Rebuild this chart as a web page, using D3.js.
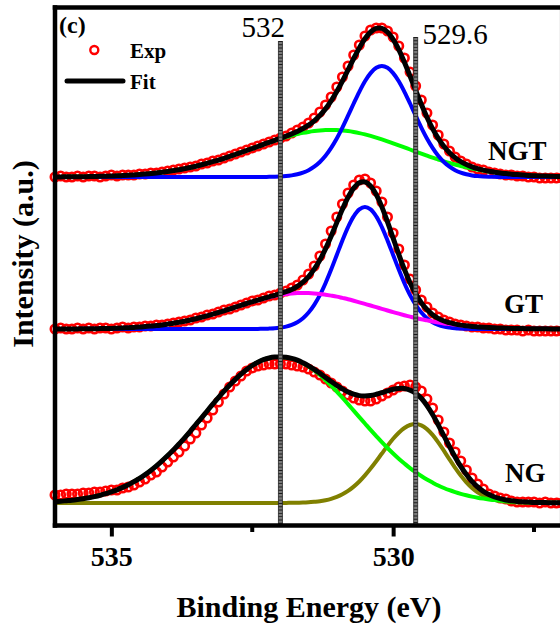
<!DOCTYPE html>
<html>
<head>
<meta charset="utf-8">
<script src="https://cdn.jsdelivr.net/npm/d3@7"></script>
<style>
  body { margin: 0; background: #fff; }
  svg { display: block; }
  text { font-family: "Liberation Serif", "Times New Roman", serif; }
</style>
</head>
<body>
<svg id="chart" width="560" height="625"></svg>
<script>
// binding energy grid, 536.0 -> 527.0 eV every 0.1 eV
const eStart = 536
const eStep = 0.1
const energy = d3.range(91).map(i => +(eStart - i * eStep).toFixed(1))

// NGT (top)
const ngtExp = [349,350,349,349,350,349,350,350,349,350,351,350,351,351,351,352,352,353,353,354,
  355,356,357,358,359,360,362,363,365,366,368,370,372,374,376,378,380,382,384,386,
  388,390,393,396,399,403,408,414,421,429,439,449,460,471,481,490,496,498,498,495,
  489,480,468,454,440,426,413,401,391,382,375,369,365,362,359,357,356,354,353,352,
  351,351,350,350,349,349,348,348,348,348,348]
const ngtFit = [349.1,349.1,349.2,349.2,349.3,349.3,349.4,349.5,349.7,349.8,350.0,350.2,350.4,350.7,351.1,351.5,351.9,352.4,353.0,353.7,
  354.5,355.4,356.3,357.4,358.5,359.8,361.2,362.7,364.3,365.9,367.7,369.6,371.5,373.5,375.5,377.5,379.5,381.7,383.7,385.7,
  387.7,389.8,392.1,394.6,397.5,400.9,405.2,410.5,417.1,425.1,434.4,444.9,456.2,467.5,478.1,487.3,494.0,497.6,497.6,493.9,
  486.6,476.4,463.8,450.0,435.7,421.7,408.8,397.4,387.7,379.7,373.3,368.3,364.4,361.4,359.1,357.3,355.9,354.8,353.9,353.0,
  352.4,351.8,351.4,351.0,350.6,350.3,350.1,349.9,349.7,349.6,349.5]
const ngtBlue = [349,349,349,349,349,349,349,349,349,349,349,349,349,349,349,349,349,349,349,349,
  349,349,349,349,349,349,349,349,349,349,349,349,349,349,349,349,349,349,349.2,349.3,
  349.5,349.9,350.6,351.7,353.4,355.8,359.3,364.0,370.2,378.1,387.5,398.4,410.3,422.5,434.2,444.7,452.9,458.2,460.0,458.2,
  452.9,444.7,434.2,422.5,410.3,398.4,387.5,378.1,370.2,364.0,359.3,355.8,353.4,351.7,350.6,349.9,349.5,349.3,349.2,349,
  349,349,349,349,349,349,349,349,349,349,349]
const ngtGreen = [349.1,349.1,349.2,349.2,349.3,349.3,349.4,349.5,349.7,349.8,350.0,350.2,350.4,350.7,351.1,351.5,351.9,352.4,353.0,353.7,
  354.5,355.4,356.3,357.4,358.5,359.8,361.2,362.7,364.3,365.9,367.7,369.6,371.5,373.5,375.5,377.5,379.5,381.6,383.5,385.4,
  387.2,388.9,390.5,391.9,393.1,394.1,394.9,395.5,395.9,396.0,395.9,395.5,394.9,394.0,392.9,391.6,390.1,388.4,386.6,384.7,
  382.7,380.7,378.6,376.5,374.4,372.3,370.3,368.3,366.5,364.7,363.0,361.5,360.0,358.7,357.5,356.4,355.4,354.5,353.7,353.0,
  352.4,351.8,351.4,351.0,350.6,350.3,350.1,349.9,349.7,349.6,349.5]

// GT (middle)
const gtExp = [197,198,197,197,198,197,198,197,198,198,197,198,199,198,199,199,200,200,201,201,
  202,203,204,205,206,208,209,211,212,214,216,217,219,221,223,225,226,228,230,231,
  233,235,238,241,246,252,260,270,282,295,309,322,333,341,346,347,343,335,324,309,
  293,277,261,247,236,226,219,213,209,206,204,202,201,200,199,199,198,198,197,197,
  196,196,196,195,196,195,195,195,195,195,195]
const gtFit = [197.0,197.0,197.1,197.1,197.1,197.2,197.2,197.3,197.4,197.5,197.6,197.8,198.0,198.3,198.6,198.9,199.4,199.9,200.4,201.1,
  201.9,202.7,203.7,204.8,206.0,207.3,208.7,210.2,211.8,213.5,215.2,217.0,218.8,220.7,222.5,224.1,225.9,227.6,229.2,230.7,
  232.5,234.3,236.6,239.7,243.8,249.4,256.8,266.0,277.1,289.8,303.4,316.7,328.7,337.9,343.3,344.1,340.1,331.4,319.1,304.1,
  287.9,271.7,256.6,243.3,232.2,223.2,216.4,211.3,207.6,205.0,203.3,201.9,200.9,200.2,199.6,199.1,198.7,198.4,198.2,198.0,
  197.8,197.6,197.5,197.4,197.3,197.3,197.2,197.2,197.1,197.1,197.0]
const gtBlue = [197,197,197,197,197,197,197,197,197,197,197,197,197,197,197,197,197,197,197,197,
  197,197,197,197,197,197,197,197,197,197,197,197,197,197,197,197,197.1,197.2,197.4,197.7,
  198.4,199.4,201.1,203.8,207.8,213.5,221.2,230.9,242.8,256.4,271.0,285.6,298.9,309.6,316.6,319.0,316.6,309.6,298.9,285.6,
  271.0,256.4,242.8,230.9,221.2,213.5,207.8,203.8,201.1,199.4,198.4,197.7,197.4,197.2,197.1,197,197,197,197,197,
  197,197,197,197,197,197,197,197,197,197,197]
const gtMagenta = [197.0,197.0,197.1,197.1,197.1,197.2,197.2,197.3,197.4,197.5,197.6,197.8,198.0,198.3,198.6,198.9,199.4,199.9,200.4,201.1,
  201.9,202.7,203.7,204.8,206.0,207.3,208.7,210.2,211.8,213.5,215.2,217.0,218.8,220.7,222.5,224.1,225.8,227.4,228.8,230.0,
  231.1,231.9,232.5,232.9,233.0,232.9,232.6,232.1,231.3,230.4,229.4,228.1,226.8,225.3,223.7,222.1,220.5,218.8,217.2,215.5,
  213.9,212.3,210.8,209.4,208.0,206.7,205.6,204.5,203.5,202.6,201.9,201.2,200.5,200.0,199.5,199.1,198.7,198.4,198.2,198.0,
  197.8,197.6,197.5,197.4,197.3,197.3,197.2,197.2,197.1,197.1,197.0]

// NG (bottom)
const ngExp = [31,31,32,32,32,33,33,34,34,35,36,36,38,39,41,44,47,51,54,59,
  64,69,74,80,87,93,101,108,116,124,132,139,145,150,155,158,160,161,162,162,
  162,162,161,160,159,157,154,151,147,143,139,135,131,128,126,125,125,127,130,133,
  136,139,140,141,139,135,127,118,106,94,83,74,65,56,48,42,37,32,30,28,
  27,25,24,24,24,24,23,24,23,23,23]
const ngFit = [24.5,24.8,25.3,25.8,26.5,27.3,28.3,29.4,30.7,32.3,34.2,36.2,38.6,41.3,44.3,47.7,51.4,55.6,60.1,65.1,
  70.5,75.9,82.0,88.2,94.7,101.5,108.1,115.0,121.8,128.4,134.8,140.9,146.6,151.8,156.5,160.5,163.8,166.3,168.0,168.9,
  169.0,168.7,167.6,165.8,163.2,160.2,156.7,152.7,148.6,144.5,140.6,137.1,134.0,131.8,130.4,130.1,130.5,131.7,133.3,135.1,
  136.7,137.6,137.5,135.9,132.8,127.7,120.4,111.5,101.2,90.3,79.4,69.1,59.6,51.4,44.5,39.0,34.7,31.4,29.0,27.3,
  26.0,25.2,24.6,24.2,23.9,23.6,23.5,23.4,23.3,23.2,23.2]
const ngGreen = [24.5,24.8,25.3,25.8,26.5,27.3,28.3,29.4,30.7,32.3,34.2,36.2,38.6,41.3,44.3,47.7,51.4,55.6,60.1,65.1,
  70.5,75.9,82.0,88.2,94.7,101.5,108.1,115.0,121.8,128.4,134.8,140.9,146.6,151.8,156.5,160.5,163.8,166.3,168.0,168.9,
  169.0,168.6,167.4,165.5,162.8,159.5,155.5,150.9,145.8,140.3,134.4,128.3,121.9,115.4,108.9,102.5,96.1,89.9,83.8,78.0,
  72.5,67.3,62.5,57.9,53.8,50.0,46.5,43.4,40.5,38.0,35.8,33.9,32.2,30.7,29.4,28.3,27.4,26.6,25.9,25.4,
  24.9,24.5,24.2,24.0,23.8,23.6,23.5,23.4,23.3,23.2,23.2]
const ngOlive = [23,23,23,23,23,23,23,23,23,23,23,23,23,23,23,23,23,23,23,23,
  23,23,23,23,23,23,23,23,23,23,23,23,23,23,23,23,23,23,23,23,
  23.0,23.1,23.2,23.3,23.4,23.7,24.2,24.8,25.8,27.2,29.2,31.8,35.1,39.4,44.5,50.6,57.4,64.8,72.5,80.1,
  87.2,93.3,98.0,101.0,102.0,100.7,96.9,91.1,83.7,75.3,66.6,58.2,50.4,43.7,38.1,33.7,30.3,27.8,26.1,24.9,
  24.1,23.7,23.4,23.2,23.1,23,23,23,23,23,23]

const majorTicks = [535, 530]
const minorTicks = [532.5, 527.5]
const refEnergies = [532, 529.6]
const refLabels = ["532", "529.6"]
const sampleLabels = ["NGT", "GT", "NG"]

const svg = d3.select("#chart")
const x = d3.scaleLinear().domain([536, 527]).range([55, 562.2])
const y = d3.scaleLinear().domain([0, 520]).range([526, 6])

const spectra = [
  { exp: ngtExp, fit: ngtFit, parts: [[ngtGreen, "#00ff00"], [ngtBlue, "#0000ff"]] },
  { exp: gtExp, fit: gtFit, parts: [[gtBlue, "#0000ff"], [gtMagenta, "#ff00ff"]] },
  { exp: ngExp, fit: ngFit, parts: [[ngOlive, "#808000"], [ngGreen, "#00ff00"]] }
]

const line = d3.line()
  .x((d, i) => x(energy[i]))
  .y(d => y(d))
  .curve(d3.curveCatmullRom)

const plot = svg.append("g")

// experimental points
spectra.forEach(s => {
  plot.append("g").selectAll("circle")
    .data(s.exp)
    .enter().append("circle")
    .attr("cx", (d, i) => x(energy[i]))
    .attr("cy", d => y(d))
    .attr("r", 4.2)
    .attr("fill", "none")
    .attr("stroke", "#ff0000")
    .attr("stroke-width", 2.6)
})

// fitted components
spectra.forEach(s => {
  s.parts.forEach(p => {
    plot.append("path")
      .attr("d", line(p[0]))
      .attr("fill", "none")
      .attr("stroke", p[1])
      .attr("stroke-width", 4)
  })
})

// envelope
spectra.forEach(s => {
  plot.append("path")
    .attr("d", line(s.fit))
    .attr("fill", "none")
    .attr("stroke", "#000")
    .attr("stroke-width", 5)
})

// reference lines at 532 and 529.6 eV
const refTop = [41, 37]
refEnergies.forEach((e, i) => {
  const xe = x(e)
  svg.append("line").attr("x1", xe).attr("x2", xe).attr("y1", refTop[i]).attr("y2", 524)
    .attr("stroke", "#7a7a7a").attr("stroke-width", 4)
  svg.append("line").attr("x1", xe).attr("x2", xe).attr("y1", refTop[i]).attr("y2", 524)
    .attr("stroke", "#111").attr("stroke-width", 4).attr("stroke-dasharray", "0.9 2.4").attr("opacity", 0.9)
  ;[-2, 2].forEach(o => {
    svg.append("line").attr("x1", xe + o).attr("x2", xe + o).attr("y1", refTop[i]).attr("y2", 524)
      .attr("stroke", "#222").attr("stroke-width", 0.8)
  })
})
svg.append("text").attr("x", 241.5).attr("y", 36.7).attr("font-size", 29).text(refLabels[0])
svg.append("text").attr("x", 422.5).attr("y", 44.3).attr("font-size", 29).text(refLabels[1])

// frame
svg.append("line").attr("x1", 55).attr("x2", 55).attr("y1", 5.25).attr("y2", 527.75)
  .attr("stroke", "#000").attr("stroke-width", 4.5)
svg.append("line").attr("x1", 52.75).attr("x2", 564.5).attr("y1", 7.5).attr("y2", 7.5)
  .attr("stroke", "#000").attr("stroke-width", 4.5)
svg.append("line").attr("x1", 562.2).attr("x2", 562.2).attr("y1", 5.25).attr("y2", 527.75)
  .attr("stroke", "#000").attr("stroke-width", 4.5)

// bottom axis
const axis = svg.append("g").attr("transform", "translate(0,525.5)")
  .call(d3.axisBottom(x).tickValues(majorTicks).tickSize(11).tickSizeOuter(0).tickFormat(d3.format("d")))
axis.select(".domain").attr("stroke-width", 4.5).attr("d", "M52.75,0H564.5")
axis.selectAll(".tick line").attr("stroke-width", 4)
axis.selectAll(".tick text")
  .attr("y", 40.5).attr("dy", null)
  .attr("font-family", "Liberation Serif").attr("font-weight", "bold").attr("font-size", 28).attr("fill", "#000")
svg.append("g").attr("transform", "translate(0,525.5)")
  .selectAll("line").data(minorTicks).enter().append("line")
  .attr("x1", d => x(d)).attr("x2", d => x(d)).attr("y1", 0).attr("y2", 6.5)
  .attr("stroke", "#000").attr("stroke-width", 4)

// titles
svg.append("text").attr("x", 309).attr("y", 617).attr("text-anchor", "middle")
  .attr("font-weight", "bold").attr("font-size", 30).text("Binding Energy (eV)")
svg.append("text").attr("transform", "translate(33,254) rotate(-90)").attr("text-anchor", "middle")
  .attr("font-weight", "bold").attr("font-size", 30).text("Intensity (a.u.)")

// sample labels
const labelPos = [[488, 160], [504, 313], [505, 481.5]]
sampleLabels.forEach((t, i) => {
  svg.append("text").attr("x", labelPos[i][0]).attr("y", labelPos[i][1])
    .attr("font-weight", "bold").attr("font-size", 27).text(t)
})

// panel tag and legend
svg.append("text").attr("x", 59).attr("y", 33.3).attr("font-weight", "bold").attr("font-size", 24).text("(c)")
svg.append("circle").attr("cx", 94.3).attr("cy", 50).attr("r", 4)
  .attr("fill", "none").attr("stroke", "#ff0000").attr("stroke-width", 2.4)
svg.append("text").attr("x", 130).attr("y", 58.3).attr("font-weight", "bold").attr("font-size", 21).text("Exp")
svg.append("line").attr("x1", 67).attr("x2", 123).attr("y1", 81).attr("y2", 81)
  .attr("stroke", "#000").attr("stroke-width", 5).attr("stroke-linecap", "round")
svg.append("text").attr("x", 130).attr("y", 89.3).attr("font-weight", "bold").attr("font-size", 21).text("Fit")
</script>
</body>
</html>
